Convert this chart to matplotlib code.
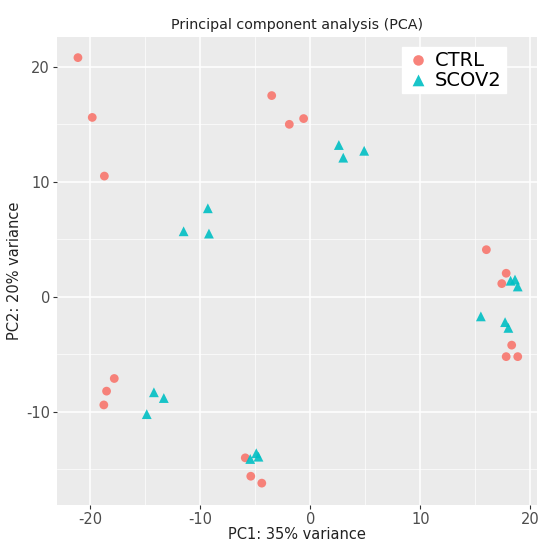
import numpy as np
import matplotlib
matplotlib.use("Agg")
import matplotlib.pyplot as plt

plt.rcParams["axes.unicode_minus"] = False

# PCA scores
ctrl_x = [-21.1, -19.8, -18.7, -3.5, -1.9, -0.6, 16.0, 17.8, 17.4, 18.3, 17.8, 18.85,
          -17.8, -18.5, -18.75, -5.9, -5.4, -4.4]
ctrl_y = [20.8, 15.6, 10.5, 17.5, 15.0, 15.5, 4.1, 2.05, 1.15, -4.2, -5.2, -5.2,
          -7.1, -8.2, -9.4, -14.0, -15.6, -16.2]
scov_x = [2.6, 3.0, 4.9, -9.3, -11.5, -9.2, 18.2, 18.6, 18.85, 15.5, 17.7, 18.0,
          -14.2, -13.3, -14.85, -4.9, -4.7, -5.45]
scov_y = [13.2, 12.1, 12.7, 7.7, 5.7, 5.5, 1.4, 1.5, 0.9, -1.7, -2.2, -2.7,
          -8.3, -8.8, -10.2, -13.6, -13.9, -14.1]

xticks = [-20, -10, 0, 10, 20]
yticks = [-10, 0, 10, 20]

fig = plt.figure(figsize=(5.39, 5.43), dpi=100)
ax = fig.add_axes([0.1058, 0.07, 0.8905, 0.862])
ax.set_facecolor("#EBEBEB")
for s in ax.spines.values():
    s.set_visible(False)

ax.set_xlim(-23.0, 20.6)
ax.set_ylim(-18.1, 22.6)
ax.set_xticks(xticks)
ax.set_yticks(yticks)
ax.set_xticks([-15, -5, 5, 15], minor=True)
ax.set_yticks([-15, -5, 5, 15], minor=True)
ax.grid(True, which="major", color="white", linewidth=1.1)
ax.grid(True, which="minor", color="white", linewidth=0.5)
ax.set_axisbelow(True)
ax.tick_params(which="major", colors="#333333", labelcolor="#4D4D4D", labelsize=10.5,
               length=3, width=0.8, pad=2)
ax.tick_params(which="minor", length=0)

ax.scatter(ctrl_x, ctrl_y, s=40, marker="o", color="#F8766D", alpha=0.9,
           edgecolors="none", label="CTRL")
ax.scatter(scov_x, scov_y, s=50, marker="^", color="#00BFC4", alpha=0.9,
           edgecolors="none", label="SCOV2")

ax.set_title("Principal component analysis (PCA)", fontsize=10.3, color="#222222", pad=6)
ax.set_xlabel("PC1: 35% variance", fontsize=10.5, color="#222222", labelpad=0)
ax.set_ylabel("PC2: 20% variance", fontsize=10.5, color="#222222", labelpad=3)

leg = ax.legend(loc="upper right", bbox_to_anchor=(0.955, 1.0), fontsize=14,
                frameon=True, fancybox=False, framealpha=1, edgecolor="white",
                handletextpad=0.2, borderpad=0.2, labelspacing=0.05, handlelength=1.3,
                markerscale=1.2)

plt.savefig("out.png", dpi=100)
